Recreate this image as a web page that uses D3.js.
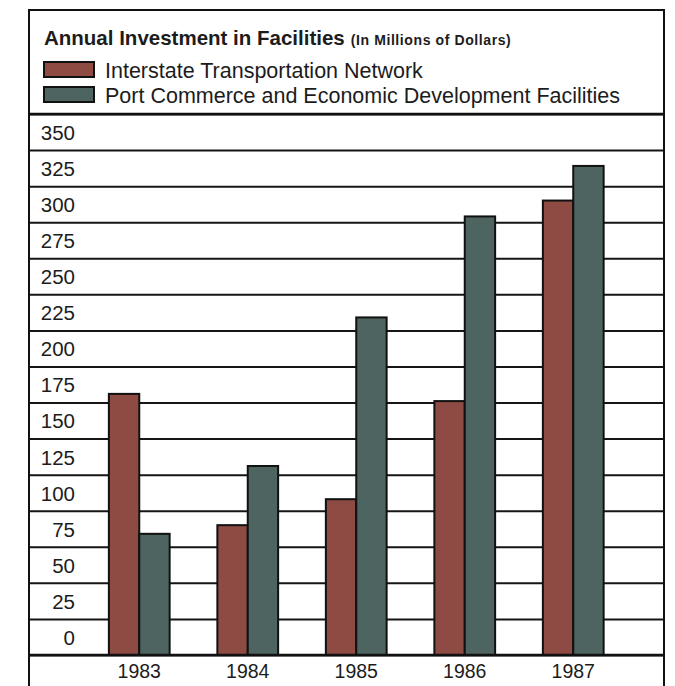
<!DOCTYPE html>
<html>
<head>
<meta charset="utf-8">
<script src="https://cdn.jsdelivr.net/npm/d3@7"></script>
<style>
  body { margin: 0; background: #fff; }
  svg { display: block; }
  text { font-family: "Liberation Sans", Arial, sans-serif; fill: #1c1c1c; }
</style>
</head>
<body>
<div id="chart"></div>
<script>
// years along the bottom
const years = ['1983', '1984', '1985', '1986', '1987'];
// series names, as in the legend
const seriesNames = ['Interstate Transportation Network', 'Port Commerce and Economic Development Facilities'];
// values in millions of dollars
const interstate = [181, 90, 108, 176, 315];
const portCommerce = [84, 131, 234, 304, 339];
// grid lines every 25, labels 0 to 350
const gridValues = d3.range(0, 376, 25);

const width = 675, height = 686;
// the frame of the whole chart
const frame = {left: 29, right: 664, top: 10};
// plot area: top line is 375, bottom line is 0
const plot = {top: 114, bottom: 655};

const svg = d3.select('#chart').append('svg')
    .attr('width', width)
    .attr('height', height);

// rows for the bars
let rows = years.map((yr, i) => ({year: yr, values: [interstate[i], portCommerce[i]]}));

// colours of the two series
let color = d3.scaleOrdinal()
    .domain(seriesNames)
    .range(['#8e4b44', '#4e6461']);

// scales
let x0 = d3.scaleBand()
    .domain(years)
    .range([85, 627.5])
    .paddingInner(0.44)
    .paddingOuter(0.22);
let x1 = d3.scaleBand()
    .domain(d3.range(seriesNames.length))
    .range([0, x0.bandwidth()]);
let y = d3.scaleLinear()
    .domain([0, 375])
    .range([plot.bottom, plot.top]);

// grid lines with the labels sitting in the band above each line
let yAxis = d3.axisLeft(y)
    .tickValues(gridValues)
    .tickSize(-(frame.right - frame.left))
    .tickFormat(d => d < 375 ? d : '');
let band = y(0) - y(25);
let gy = svg.append('g')
    .attr('transform', `translate(${frame.left},0)`)
    .call(yAxis);
gy.select('.domain').remove();
gy.selectAll('.tick line')
    .attr('stroke', '#151515')
    .attr('stroke-width', 2);
gy.selectAll('.tick text')
    .attr('x', 46)
    .attr('y', -band / 2)
    .attr('dy', '0.36em')
    .attr('text-anchor', 'end')
    .attr('font-size', 20.5)
    .attr('font-family', null)
    .attr('fill', '#1c1c1c');

// bars
let group = svg.selectAll('.year')
    .data(rows)
    .enter().append('g')
    .attr('class', 'year')
    .attr('transform', d => `translate(${x0(d.year)},0)`);
group.selectAll('rect')
    .data(d => d.values)
    .enter().append('rect')
    .attr('x', (d, i) => x1(i))
    .attr('y', d => y(d))
    .attr('width', x1.bandwidth())
    .attr('height', d => y(0) - y(d))
    .attr('fill', (d, i) => color(seriesNames[i]))
    .attr('stroke', '#111')
    .attr('stroke-width', 2);

// baseline drawn again over the bar bottoms
svg.append('line')
    .attr('x1', frame.left).attr('x2', frame.right)
    .attr('y1', plot.bottom).attr('y2', plot.bottom)
    .attr('stroke', '#111').attr('stroke-width', 2.5);

// year labels
let xAxis = d3.axisBottom(x0).tickSize(0).tickPadding(0);
let gx = svg.append('g')
    .attr('transform', `translate(0,${plot.bottom})`)
    .call(xAxis);
gx.select('.domain').remove();
gx.selectAll('.tick text')
    .attr('y', 23)
    .attr('dy', 0)
    .attr('font-size', 19.5)
    .attr('font-family', null)
    .attr('fill', '#1c1c1c');

// outer frame, open at the bottom of the picture
svg.append('path')
    .attr('d', `M${frame.left},${height + 5}V${frame.top}H${frame.right}V${height + 5}`)
    .attr('fill', 'none')
    .attr('stroke', '#111')
    .attr('stroke-width', 2);

// line under the legend
svg.append('line')
    .attr('x1', frame.left).attr('x2', frame.right)
    .attr('y1', plot.top).attr('y2', plot.top)
    .attr('stroke', '#111').attr('stroke-width', 2.5);

// title
let title = svg.append('text')
    .attr('x', 44)
    .attr('y', 45)
    .attr('font-weight', 'bold');
title.append('tspan')
    .attr('font-size', 20.5)
    .text('Annual Investment in Facilities');
title.append('tspan')
    .attr('dx', 6)
    .attr('font-size', 14)
    .attr('letter-spacing', 0.6)
    .text('(In Millions of Dollars)');

// legend
let legend = svg.selectAll('.legend')
    .data(seriesNames)
    .enter().append('g')
    .attr('class', 'legend')
    .attr('transform', (d, i) => `translate(44,${62 + i * 25})`);
legend.append('rect')
    .attr('width', 50)
    .attr('height', 15)
    .attr('fill', d => color(d))
    .attr('stroke', '#111')
    .attr('stroke-width', 2);
legend.append('text')
    .attr('x', 61)
    .attr('y', 15.5)
    .attr('font-size', 21.5)
    .text(d => d);
</script>
</body>
</html>
